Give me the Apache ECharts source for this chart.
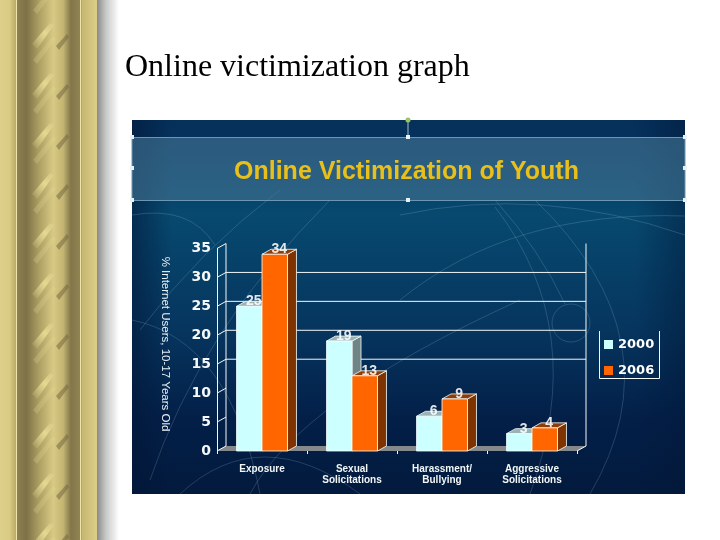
<!DOCTYPE html>
<html><head><meta charset="utf-8">
<style>html,body{margin:0;padding:0;background:#fff}#c{width:720px;height:540px}</style>
<script src="https://cdn.jsdelivr.net/npm/echarts@6/dist/echarts.min.js"></script>
</head><body><div id="c"></div>
<script>
const categories = ['Exposure', 'Sexual\nSolicitations', 'Harassment/\nBullying', 'Aggressive\nSolicitations'];
const years = ['2000', '2006'];
const values2000 = [25, 19, 6, 3];
const values2006 = [34, 13, 9, 4];
const yTicks = [0, 5, 10, 15, 20, 25, 30, 35];
const wallLines = [15, 20, 25, 30];

const DX = 9, DY = -5;
const chart = echarts.init(document.getElementById('c'));

function barSeries(name, vals, sign, front, dark, top) {
  return {
    name, type: 'custom', coordinateSystem: 'cartesian2d', xAxisIndex: 0, yAxisIndex: 0,
    itemStyle: { color: front },
    data: vals.map((v, i) => [i, v]),
    encode: { x: 0, y: 1 },
    renderItem(params, api) {
      const p = api.coord([api.value(0), api.value(1)]);
      const b = api.coord([api.value(0), 0]);
      const w = api.size([1, 0])[0] * 0.283;
      const x0 = sign < 0 ? p[0] - w : p[0], x1 = x0 + w;
      const yt = p[1], yb = b[1];
      const edge = { stroke: '#f4ffff', lineWidth: 0.8 };
      return { type: 'group', children: [
        { type: 'polygon', shape: { points: [[x1, yt], [x1 + DX, yt + DY], [x1 + DX, yb + DY], [x1, yb]] }, style: { fill: dark, ...edge } },
        { type: 'polygon', shape: { points: [[x0, yt], [x0 + DX, yt + DY], [x1 + DX, yt + DY], [x1, yt]] }, style: { fill: top, ...edge } },
        { type: 'rect', shape: { x: x0, y: yt, width: w, height: yb - yt }, style: { fill: front, ...edge } },
        { type: 'text', style: { text: String(api.value(1)), x: (x0 + x1) / 2 + 4.5, y: yt - 5, align: 'center', verticalAlign: 'middle',
            font: 'bold 14px "Liberation Sans"', fill: 'rgba(255,255,255,0.88)' } }
      ]};
    }
  };
}

const bg = [];
// gold column
bg.push({ type: 'rect', z: -10, shape: { x: 0, y: 0, width: 97, height: 540 }, style: { fill: new echarts.graphic.LinearGradient(0, 0, 1, 0, [
  { offset: 0, color: '#ddd08a' }, { offset: 0.1, color: '#d9cb82' }, { offset: 0.165, color: '#b9ab68' }, { offset: 0.18, color: '#8d8150' },
  { offset: 0.27, color: '#7d7147' }, { offset: 0.4, color: '#ab9e62' }, { offset: 0.55, color: '#d8ca84' }, { offset: 0.65, color: '#c4b672' },
  { offset: 0.73, color: '#83774a' }, { offset: 0.82, color: '#8f8353' }, { offset: 0.85, color: '#c6b873' }, { offset: 1, color: '#ddcf88' }]) } });
bg.push({ type: 'rect', z: -9, shape: { x: 16, y: 0, width: 1, height: 540 }, style: { fill: '#efe5ac' } });
bg.push({ type: 'rect', z: -9, shape: { x: 80, y: 0, width: 1, height: 540 }, style: { fill: '#efe5ac' } });
for (let y = -30; y < 560; y += 50) {
  const fade = (x1, y1, x2, y2, c) => new echarts.graphic.LinearGradient(x1, y1, x2, y2, [{ offset: 0, color: c + '0)' }, { offset: 0.6, color: c + '0.9)' }, { offset: 1, color: c + '0.25)' }]);
  bg.push({ type: 'polygon', z: -8, shape: { points: [[32, y + 24], [50, y + 3], [54, y + 5], [37, y + 29]] }, style: { fill: fade(0, 1, 1, 0, 'rgba(232,220,150,') } });
  bg.push({ type: 'polygon', z: -8, shape: { points: [[33, y + 40], [53, y + 16], [56, y + 19], [37, y + 44]] }, style: { fill: 'rgba(232,220,150,0.25)' } });
  bg.push({ type: 'polygon', z: -8, shape: { points: [[56, y + 26], [67, y + 14], [69, y + 17], [59, y + 30]] }, style: { fill: 'rgba(110,98,60,0.5)' } });
}
bg.push({ type: 'rect', z: -9, shape: { x: 97, y: 0, width: 22, height: 540 }, style: { fill: new echarts.graphic.LinearGradient(0, 0, 1, 0, [
  { offset: 0, color: '#8a8a8a' }, { offset: 0.4, color: '#c8c8c8' }, { offset: 1, color: '#ffffff' }]) } });

// slide panel
bg.push({ type: 'rect', z: -7, shape: { x: 132, y: 120, width: 553, height: 374 }, style: { fill: new echarts.graphic.LinearGradient(0, 0, 0, 1, [
  { offset: 0, color: '#05305a' }, { offset: 0.05, color: '#05315c' }, { offset: 0.25, color: '#07496f' }, { offset: 0.55, color: '#06365f' }, { offset: 0.8, color: '#031f48' }, { offset: 1, color: '#021a3d' }]) } });
bg.push({ type: 'rect', z: -7, shape: { x: 132, y: 120, width: 40, height: 374 }, style: { fill: new echarts.graphic.LinearGradient(0, 0, 1, 0, [
  { offset: 0, color: 'rgba(2,22,55,0.55)' }, { offset: 1, color: 'rgba(2,22,55,0)' }]) } });
bg.push({ type: 'rect', z: -7, shape: { x: 635, y: 120, width: 50, height: 374 }, style: { fill: new echarts.graphic.LinearGradient(0, 0, 1, 0, [
  { offset: 0, color: 'rgba(2,22,55,0)' }, { offset: 1, color: 'rgba(2,22,55,0.45)' }]) } });
// faint arcs of the slide background
const arcs = [
  [[140, 330], [200, 250], [280, 190]], [[150, 480], [200, 330], [330, 200]], [[250, 494], [300, 400], [520, 300]],
  [[400, 300], [510, 210], [685, 216]], [[400, 215], [540, 185], [685, 235]], [[495, 200], [540, 250], [565, 304]],
  [[535, 200], [680, 340], [590, 494]], [[495, 207], [590, 330], [530, 494]],
  [[132, 215], [190, 205], [215, 245]], [[132, 320], [230, 340], [260, 494]], [[180, 494], [260, 420], [360, 494]]
];
arcs.forEach(a => bg.push({ type: 'bezierCurve', z: -6, shape: { x1: a[0][0], y1: a[0][1], cpx1: a[1][0], cpy1: a[1][1], x2: a[2][0], y2: a[2][1] },
  style: { fill: null, stroke: 'rgba(170,205,225,0.2)', lineWidth: 1 } }));
bg.push({ type: 'circle', z: -6, shape: { cx: 571, cy: 323, r: 19 }, style: { fill: null, stroke: 'rgba(170,205,225,0.2)', lineWidth: 1 } });
// title band
bg.push({ type: 'rect', z: -5, shape: { x: 132, y: 137.5, width: 553, height: 63 }, style: { fill: 'rgba(68,118,148,0.6)', stroke: '#6d96b2', lineWidth: 1 } });
bg.push({ type: 'line', z: -5, shape: { x1: 408, y1: 120, x2: 408, y2: 137 }, style: { stroke: '#a9c0cf', lineWidth: 1 } });
bg.push({ type: 'circle', z: -4, shape: { cx: 408, cy: 120, r: 2.5 }, style: { fill: '#9dc45f' } });
[[132, 137], [132, 168], [132, 200], [408, 137], [408, 200], [685, 137], [685, 168], [685, 200]].forEach(h =>
  bg.push({ type: 'rect', z: -4, shape: { x: h[0] - 2, y: h[1] - 2, width: 4, height: 4 }, style: { fill: '#e8f2f6' } }));
// rotated axis caption
bg.push({ type: 'text', z: 5, x: 165, y: 344, rotation: -Math.PI / 2, style: { text: '% Internet Users, 10-17 Years Old', align: 'center', verticalAlign: 'middle',
  font: '11.5px "Liberation Sans"', fill: '#e8f0f4' } });
// legend frame
bg.push({ type: 'polyline', z: 5, shape: { points: [[599.5, 331], [599.5, 378.5], [659.5, 378.5], [659.5, 331]] }, style: { fill: null, stroke: '#f2f7f8', lineWidth: 1 } });

chart.setOption({
  animation: false,
  backgroundColor: '#ffffff',
  title: [
    { text: 'Online victimization graph', left: 125, top: 52, padding: 0, textStyle: { fontFamily: '"Liberation Serif"', fontWeight: 'normal', fontSize: 32, color: '#000' } },
    { text: 'Online Victimization of Youth', left: 234, top: 160, padding: 0, textStyle: { fontFamily: '"Liberation Sans"', fontWeight: 'bold', fontSize: 25, color: '#e9bf1c' } }
  ],
  legend: {
    orient: 'vertical', left: 599, top: 333, itemWidth: 9, itemHeight: 9, itemGap: 13, icon: 'rect',
    data: ['2000', '2006'],
    textStyle: { color: '#fff', fontFamily: '"DejaVu Sans"', fontWeight: 'bold', fontSize: 13 }
  },
  grid: { left: 217, top: 248.5, width: 360, height: 202.5, containLabel: false },
  xAxis: { type: 'category', data: categories,
    axisLine: { show: false }, axisTick: { show: true, length: 3, lineStyle: { color: '#f4f8f8' } },
    axisLabel: { color: '#f2f6f6', fontFamily: '"Liberation Sans"', fontWeight: 'bold', fontSize: 10, lineHeight: 11.5, margin: 12, interval: 0 } },
  yAxis: { type: 'value', min: 0, max: 35, interval: 5,
    axisLine: { show: true, lineStyle: { color: '#f4f8f8', width: 1 } }, axisTick: { show: false }, splitLine: { show: false },
    axisLabel: { color: '#f6f9f9', fontFamily: '"DejaVu Sans"', fontWeight: 'bold', fontSize: 14, margin: 6 } },
  series: [
    { type: 'custom', silent: true, data: yTicks.map(t => [0, t]), encode: { x: 0, y: 1 },
      renderItem(params, api) {
        const tick = api.value(1);
        const y = api.coord([0, tick])[1];
        const cs = params.coordSys, L = cs.x, R = cs.x + cs.width;
        const line = { stroke: '#f4f8f8', lineWidth: 1, fill: null };
        const kids = [{ type: 'line', shape: { x1: L, y1: y, x2: L + DX, y2: y + DY }, style: line }];
        if (wallLines.includes(tick)) kids.push({ type: 'line', shape: { x1: L + DX, y1: y + DY, x2: R + DX, y2: y + DY }, style: line });
        if (tick === 0) {
          const topY = api.coord([0, 35])[1] + DY;
          kids.unshift({ type: 'polygon', shape: { points: [[L, y], [L + DX, y + DY], [R + DX, y + DY], [R, y]] }, style: { fill: '#85898c' } });
          kids.push({ type: 'line', shape: { x1: L + DX, y1: y + DY, x2: L + DX, y2: topY }, style: line });
          kids.push({ type: 'line', shape: { x1: R + DX, y1: y + DY, x2: R + DX, y2: topY }, style: line });
          kids.push({ type: 'line', shape: { x1: R, y1: y, x2: R + DX, y2: y + DY }, style: line });
        }
        return { type: 'group', children: kids };
      } },
    barSeries('2000', values2000, -1, '#ccffff', '#6f8585', '#9ab2b4'),
    barSeries('2006', values2006, 1, '#ff6600', '#7f3300', '#8f3d08')
  ],
  graphic: { elements: bg }
});
</script></body></html>
